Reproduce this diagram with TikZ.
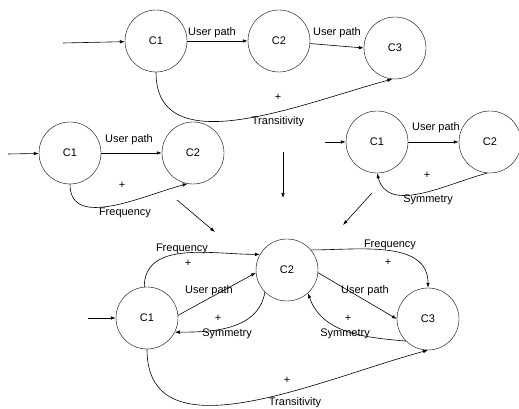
\documentclass[tikz,border=0pt]{standalone}
\usepackage{fontspec}
\setmainfont{Liberation Sans}
\usetikzlibrary{arrows.meta}
\tikzset{
  concept/.style={circle,draw,minimum size=62pt,inner sep=0pt},
  rel/.style={-{Latex[length=5pt,width=3.5pt]},line width=0.6pt},
  lbl/.style={inner sep=0pt}
}
\begin{document}
\begin{tikzpicture}[x=1pt,y=1pt,font=\fontsize{11}{13}\selectfont]
\useasboundingbox (0,0) rectangle (519,409);

\node[concept] (a1) at (156,368) {C1};
\node[concept] (a2) at (279,368) {C2};
\node[concept] (a3) at (395,361) {C3};
\coordinate (a0) at (63,366);

\node[concept] (b1) at (70,256) {C1};
\node[concept] (b2) at (193,256) {C2};
\coordinate (b0) at (8,255);

\node[concept] (c1) at (377,267) {C1};
\node[concept] (c2) at (490,267) {C2};
\coordinate (c0) at (325,267);

\node[concept] (d1) at (147,91) {C1};
\node[concept] (d2) at (287,139) {C2};
\node[concept] (d3) at (428,90) {C3};
\coordinate (d0) at (88,91);

\coordinate (m0) at (283,257);
\coordinate (m1) at (283,211);
\coordinate (l0) at (177,209);
\coordinate (l1) at (215,177);
\coordinate (r0) at (372,216);
\coordinate (r1) at (343,184);

\draw[rel] (a0) -- (a1);
\draw[rel] (a1) -- (a2);
\draw[rel] (a2) -- (a3.180);
\draw[rel] (a1.south) to[out=-90,in=195] (a3.-95);
\node[lbl] at (212,376) {User path};
\node[lbl] at (337,376) {User path};
\node[lbl] at (278,312) {+};
\node[lbl] at (278,287) {Transitivity};

\draw[rel] (b0) -- (b1);
\draw[rel] (b1) -- (b2);
\draw[rel] (b1.south) to[out=-90,in=195] (b2.-100);
\node[lbl] at (129,269) {User path};
\node[lbl] at (122,224) {+};
\node[lbl] at (125,196) {Frequency};

\draw[rel] (c0) -- (c1);
\draw[rel] (c1) -- (c2);
\draw[rel] (c2.-95) to[out=195,in=-75] (c1.-90);
\node[lbl] at (436,281) {User path};
\node[lbl] at (427,234) {+};
\node[lbl] at (428,209) {Symmetry};

\draw[rel] (m0) -- (m1);
\draw[rel] (l0) -- (l1);
\draw[rel] (r0) -- (r1);

\draw[rel] (d0) -- (d1);
\draw[rel] (d1.5) -- (d2.185);
\draw[rel] (d2.-5) -- (d3.180);
\draw[rel] (d1.95) to[out=90,in=180] (d2.150);
\draw[rel] (d2.40) to[out=0,in=90] (d3.90);
\draw[rel] (d2.225) to[out=-100,in=0] (d1.-27);
\draw[rel] (d3.225) to[out=175,in=-70] (d2.-48);
\draw[rel] (d1.south) to[out=-90,in=195] (d3.-90);
\node[lbl] at (182,160) {Frequency};
\node[lbl] at (188,146) {+};
\node[lbl] at (209,118) {User path};
\node[lbl] at (218,91) {+};
\node[lbl] at (227,75) {Symmetry};
\node[lbl] at (390,164) {Frequency};
\node[lbl] at (388,147) {+};
\node[lbl] at (365,118) {User path};
\node[lbl] at (348,91) {+};
\node[lbl] at (345,75) {Symmetry};
\node[lbl] at (287,29) {+};
\node[lbl] at (295,6) {Transitivity};
\end{tikzpicture}
\end{document}
